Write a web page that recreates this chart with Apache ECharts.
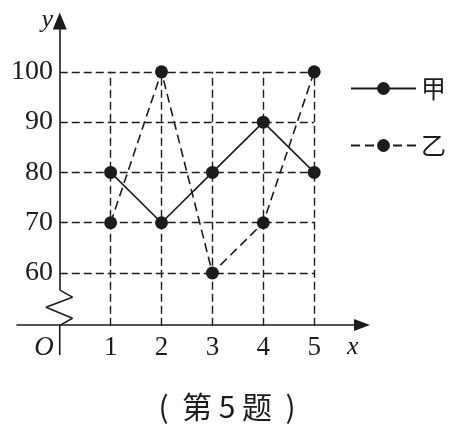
<!DOCTYPE html>
<html><head><meta charset="utf-8">
<script src="https://cdn.jsdelivr.net/npm/echarts@6/dist/echarts.min.js"></script>
<style>html,body{margin:0;padding:0;background:#fff}#c{width:454px;height:434px}</style>
</head><body><div id="c"></div>
<script>
const categories = [1, 2, 3, 4, 5];
const seriesJia = [80, 70, 80, 90, 80];
const seriesYi = [70, 100, 60, 70, 100];
const yTicks = [60, 70, 80, 90, 100];
const xTicks = [1, 2, 3, 4, 5];
const originLabelX = -0.31;
const xAxisY = 49.5;
// axis break zigzag (decoration) in data units
const breakZigzag = [[0, 43.7], [0, 49.6], [0.25, 51.0], [-0.27, 53.2], [0.25, 55.2], [0, 56.6]];
const yAxisTop = 110.1;

const INK = '#1c1c1c';
const SERIF = '"Liberation Serif", "DejaVu Serif", serif';
const CJK = '"Noto Sans CJK SC", sans-serif';

const gridLines = [];
yTicks.forEach(v => gridLines.push([{coord: [0, v]}, {coord: [xTicks[xTicks.length - 1], v]}]));
xTicks.forEach(v => gridLines.push([{coord: [v, xAxisY]}, {coord: [v, yTicks[yTicks.length - 1]]}]));
const dashStyle = {color: INK, width: 1.4, type: [8, 4]};
const markData = gridLines.map(p => [Object.assign({}, p[0], {lineStyle: dashStyle}), p[1]]);
markData.push([
  {coord: [0, breakZigzag[breakZigzag.length - 1][1]], symbol: 'none', lineStyle: {color: INK, width: 1.6, type: 'solid'}},
  {coord: [0, yAxisTop], symbol: 'triangle', symbolSize: [14, 17]}
]);

const chart = echarts.init(document.getElementById('c'));
chart.setOption({
  animation: false,
  backgroundColor: '#fff',
  title: {
    text: '(  第 5 题  )', left: 'center', top: 392, padding: 0,
    textStyle: {fontFamily: CJK, fontSize: 30, fontWeight: 'normal', color: INK}
  },
  legend: {
    data: ['甲', '乙'], orient: 'vertical', left: 350, top: 76, padding: 0,
    itemWidth: 65, itemHeight: 16, itemGap: 32,
    textStyle: {fontFamily: CJK, fontSize: 25, color: INK}
  },
  grid: {left: 17, right: 92, top: 13, bottom: 79, containLabel: false, outerBoundsMode: 'none'},
  xAxis: {
    type: 'value', min: -0.84, max: 5.94, offset: -30,
    axisLine: {show: true, onZero: false, lineStyle: {color: INK, width: 1.6}, symbol: ['none', 'triangle'], symbolSize: [12, 16]},
    axisTick: {show: false}, splitLine: {show: false},
    axisLabel: {
      customValues: [originLabelX].concat(xTicks), margin: 9,
      fontFamily: SERIF, fontSize: 27, color: INK,
      formatter: v => v < 0 ? '{o|O}' : String(v),
      rich: {o: {fontStyle: 'italic', fontFamily: SERIF, fontSize: 27, color: INK}}
    },
    name: 'x', nameLocation: 'end', nameGap: -15,
    nameTextStyle: {fontStyle: 'italic', fontFamily: SERIF, fontSize: 26, color: INK, verticalAlign: 'top', padding: [9, 0, 0, 0]}
  },
  yAxis: {
    type: 'value', min: 43.7, max: 111.7, offset: -43,
    axisLine: {show: false, onZero: false},
    axisTick: {show: false}, splitLine: {show: false},
    axisLabel: {customValues: yTicks, margin: 7, fontFamily: SERIF, fontSize: 28, color: INK},
    name: 'y', nameLocation: 'end', nameGap: -20,
    nameTextStyle: {fontStyle: 'italic', fontFamily: SERIF, fontSize: 26, color: INK, align: 'right', padding: [0, 7, 0, 0]}
  },
  series: [
    {
      name: 'axis', type: 'line', data: breakZigzag, symbol: 'none', silent: true, z: 1,
      lineStyle: {color: INK, width: 1.6}, clip: false,
      markLine: {silent: true, symbol: ['none', 'none'], label: {show: false}, animation: false, data: markData}
    },
    {
      name: '甲', type: 'line', data: categories.map((c, i) => [c, seriesJia[i]]),
      symbol: 'circle', symbolSize: 13, z: 3,
      itemStyle: {color: INK}, lineStyle: {color: INK, width: 1.6, type: 'solid'}
    },
    {
      name: '乙', type: 'line', data: categories.map((c, i) => [c, seriesYi[i]]),
      symbol: 'circle', symbolSize: 13, z: 3,
      itemStyle: {color: INK}, lineStyle: {color: INK, width: 1.6, type: [9, 5]}
    }
  ]
});
</script></body></html>
